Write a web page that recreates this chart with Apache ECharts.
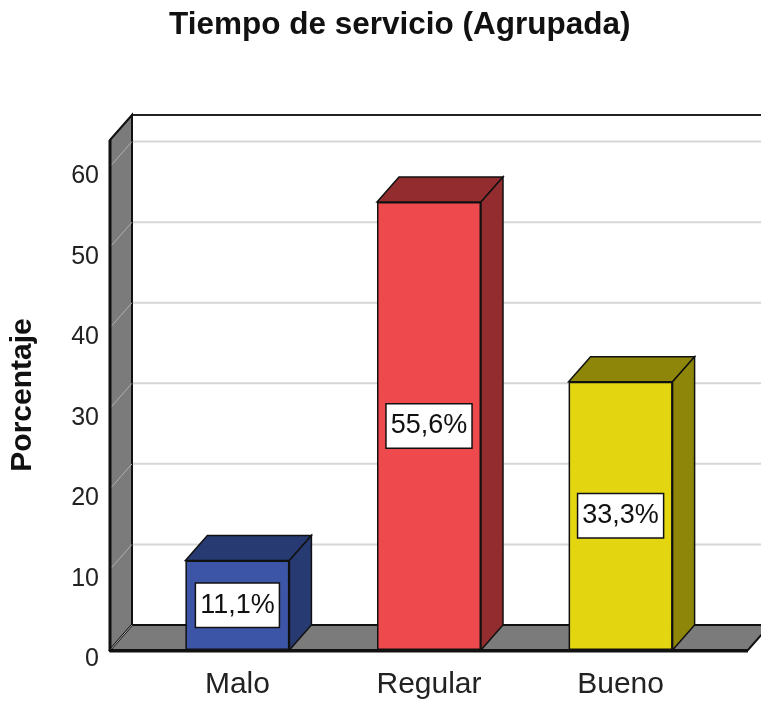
<!DOCTYPE html>
<html>
<head>
<meta charset="utf-8">
<script src="https://cdn.jsdelivr.net/npm/echarts@6/dist/echarts.min.js"></script>
<style>
  html, body { margin: 0; padding: 0; background: #fff; }
  #main { width: 761px; height: 702px; }
</style>
</head>
<body>
<div id="main"></div>
<script>
const categories = ['Malo', 'Regular', 'Bueno']
const values = [11.1, 55.6, 33.3]
const yTicks = [0, 10, 20, 30, 40, 50, 60]
const frontColors = ['#3d55a6', '#ee4a4e', '#e3d611']
const darkColors = ['#273b72', '#922c2f', '#8d8608']

// depth of the fake 3d box, in pixels
const DX = 22
const DY = -25
const BAR_W = 104
const FONT = '"Liberation Sans", Arial, sans-serif'

const fmt = (v) => v.toFixed(1).replace('.', ',') + '%'

const renderWalls = (params, api) => {
  const cs = params.coordSys
  const left = cs.x, top = cs.y, right = cs.x + cs.width, bottom = cs.y + cs.height
  const children = []
  // back wall
  children.push({
    type: 'rect',
    shape: { x: left + DX, y: top + DY, width: cs.width, height: cs.height },
    style: { fill: '#fff', stroke: '#222', lineWidth: 2 }
  })
  yTicks.forEach((t) => {
    const y = api.coord([0, t])[1]
    if (t > 0) {
      children.push({
        type: 'line',
        shape: { x1: left + DX, y1: y + DY, x2: right + DX, y2: y + DY },
        style: { stroke: '#d6d6d6', lineWidth: 2 }
      })
    }
  })
  // left side wall
  children.push({
    type: 'polygon',
    shape: { points: [[left, top], [left + DX, top + DY], [left + DX, bottom + DY], [left, bottom]] },
    style: { fill: '#7b7b7b', stroke: '#111', lineWidth: 2 }
  })
  // floor
  children.push({
    type: 'polygon',
    shape: { points: [[left, bottom], [right, bottom], [right + DX, bottom + DY], [left + DX, bottom + DY]] },
    style: { fill: '#7b7b7b', stroke: '#111', lineWidth: 2 }
  })
  yTicks.forEach((t) => {
    const y = api.coord([0, t])[1]
    children.push({
      type: 'line',
      shape: { x1: left, y1: y, x2: left + DX, y2: y + DY },
      style: { stroke: '#b0b0b0', lineWidth: 1 }
    })
  })
  // front edges
  children.push({
    type: 'line',
    shape: { x1: left, y1: top, x2: left, y2: bottom },
    style: { stroke: '#111', lineWidth: 3 }
  })
  children.push({
    type: 'line',
    shape: { x1: left, y1: bottom + 1, x2: right, y2: bottom + 1 },
    style: { stroke: '#111', lineWidth: 3 }
  })
  return { type: 'group', children }
}

const renderBarDepth = (params, api) => {
  const i = params.dataIndex
  const p0 = api.coord([api.value(0), 0])
  const p1 = api.coord([api.value(0), api.value(1)])
  const l = p1[0] - BAR_W / 2, r = p1[0] + BAR_W / 2, t = p1[1], b = p0[1]
  const style = { fill: darkColors[i], stroke: '#111', lineWidth: 1.5 }
  return {
    type: 'group',
    children: [
      { type: 'polygon', shape: { points: [[l, t], [r, t], [r + DX, t + DY], [l + DX, t + DY]] }, style },
      { type: 'polygon', shape: { points: [[r, t], [r + DX, t + DY], [r + DX, b + DY], [r, b]] }, style }
    ]
  }
}

const myChart = echarts.init(document.getElementById('main'))
const option = {
  backgroundColor: '#fff',
  animation: false,
  title: {
    text: 'Tiempo de servicio (Agrupada)',
    left: 164,
    top: 4,
    textStyle: { fontFamily: FONT, fontSize: 31.5, fontWeight: 'bold', color: '#111' }
  },
  grid: { left: 107, right: 13, top: 140, bottom: 52 },
  xAxis: {
    type: 'value',
    min: -0.665,
    max: 2.665,
    axisLine: { show: false },
    axisTick: { show: false },
    splitLine: { show: false },
    axisLabel: {
      customValues: [0, 1, 2],
      formatter: (v) => categories[Math.round(v)],
      fontFamily: FONT,
      fontSize: 30,
      color: '#222',
      margin: 20
    }
  },
  yAxis: {
    type: 'value',
    min: 0,
    max: 63.3,
    name: 'Porcentaje',
    nameLocation: 'middle',
    nameRotate: 90,
    nameGap: 72,
    nameTextStyle: { fontFamily: FONT, fontSize: 30, fontWeight: 'bold', color: '#111' },
    axisLine: { show: false },
    axisTick: { show: false },
    splitLine: { show: false },
    axisLabel: {
      customValues: yTicks,
      fontFamily: FONT,
      fontSize: 25,
      color: '#222',
      margin: 11,
      verticalAlign: 'top',
      lineHeight: 19
    }
  },
  series: [
    {
      type: 'custom',
      renderItem: renderWalls,
      data: [[0, 0]],
      z: 1,
      silent: true
    },
    {
      type: 'custom',
      renderItem: renderBarDepth,
      data: values.map((v, i) => [i, v]),
      z: 2
    },
    {
      type: 'bar',
      barWidth: BAR_W,
      z: 3,
      data: values.map((v, i) => ({
        value: [i, v],
        itemStyle: { color: frontColors[i], borderColor: '#111', borderWidth: 1.5 }
      })),
      label: {
        show: true,
        position: 'inside',
        formatter: (p) => fmt(p.value[1]),
        fontFamily: FONT,
        fontSize: 27,
        color: '#111',
        backgroundColor: '#fff',
        borderColor: '#111',
        borderWidth: 1.5,
        padding: [9, 4, 7, 4]
      }
    }
  ]
}
myChart.setOption(option)
</script>
</body>
</html>
